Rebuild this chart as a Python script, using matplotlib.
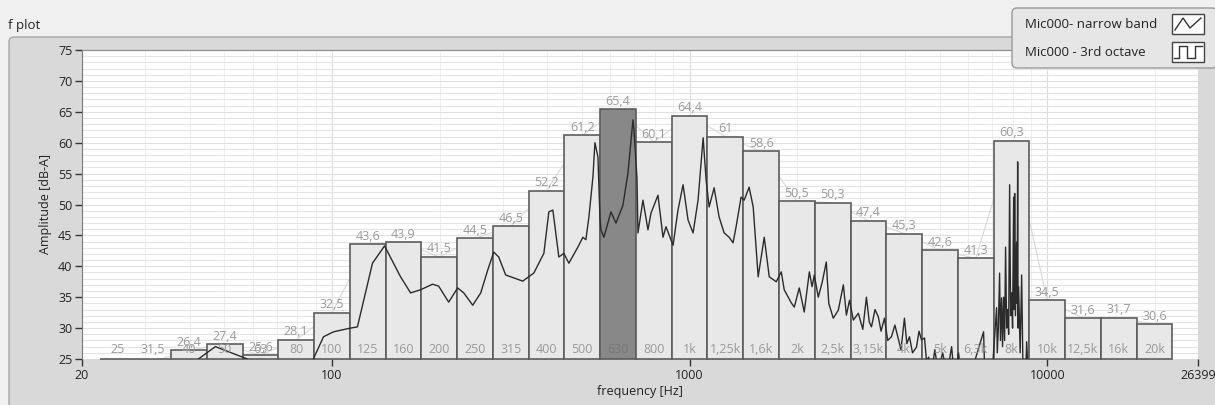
import numpy as np
import matplotlib.pyplot as plt
from matplotlib.patches import FancyBboxPatch, Rectangle
from matplotlib.lines import Line2D

plt.rcParams['font.family'] = ['Open Sans', 'DejaVu Sans']

# third-octave bands
bands = [25, 31.5, 40, 50, 63, 80, 100, 125, 160, 200, 250, 315, 400, 500, 630, 800,
         1000, 1250, 1600, 2000, 2500, 3150, 4000, 5000, 6300, 8000, 10000, 12500, 16000, 20000]
band_names = ['25', '31,5', '40', '50', '63', '80', '100', '125', '160', '200', '250', '315',
              '400', '500', '630', '800', '1k', '1,25k', '1,6k', '2k', '2,5k', '3,15k', '4k',
              '5k', '6,3k', '8k', '10k', '12,5k', '16k', '20k']
octave_db = [24.0, 24.6, 26.4, 27.4, 25.6, 28.1, 32.5, 43.6, 43.9, 41.5, 44.5, 46.5, 52.2,
             61.2, 65.4, 60.1, 64.4, 61.0, 58.6, 50.5, 50.3, 47.4, 45.3, 42.6, 41.3, 60.3,
             34.5, 31.6, 31.7, 30.6]
highlight = '630'

# narrow band spectrum
nb_freq = [40, 42.3, 47.2, 58, 62, 80, 88.7, 94.7, 101, 110.5, 117.8, 129.8, 140.3, 155.5,
           165.9, 176.9, 191, 198.7, 212, 224.6, 233.6, 247.5, 260.6, 272.6, 283.4, 292.6,
           306, 341.6, 366.7, 391.3, 404, 414.6, 422.6, 430.9, 445, 459.6, 487, 503, 512.8,
           523, 536.7, 543.6, 554.2, 561.4, 565, 576, 602.6, 622.4, 651.2, 672.4, 694.4,
           698.8, 712.6, 717.2, 740.6, 764.8, 779.8, 815.8, 842.6, 859, 899, 928, 958.8, 990,
           1022.6, 1056, 1091, 1112, 1134, 1171, 1209, 1249, 1290, 1323, 1349, 1393, 1421,
           1467, 1506, 1555, 1617, 1670, 1747, 1804, 1839, 1924, 1962, 2026, 2092, 2162,
           2200, 2232, 2290, 2350, 2411, 2450, 2522, 2605, 2691, 2744, 2800, 2870, 2964,
           3050, 3122, 3180, 3225, 3300, 3372, 3430, 3506, 3580, 3668, 3750, 3838, 3900,
           3988, 4050, 4120, 4200, 4309, 4380, 4451, 4538, 4600, 4657, 4750, 4850, 4950,
           5100, 5250, 5403, 5500, 5649, 5750, 6000, 6638, 6700, 7000, 7218, 7250, 7300,
           7358, 7400, 7454, 7500, 7552, 7600, 7648, 7700, 7750, 7800, 7850, 7900, 7952,
           8000, 8056, 8080, 8108, 8150, 8212, 8240, 8266, 8290, 8318, 8400, 8482, 8550,
           8700, 8760, 8850, 9500]
nb_db = [23.0, 25.0, 27.0, 25.0, 23.5, 22.0, 25.0, 28.6, 29.4, 29.9, 30.2, 40.5, 43.3, 38.3,
         35.7, 36.2, 37.1, 36.8, 34.2, 36.5, 35.7, 33.7, 35.7, 39.4, 42.3, 41.5,
         38.6, 37.6, 38.9, 42.1, 48.8, 49.1, 45.4, 41.5, 42.1, 40.5, 43.1, 44.7, 44.3,
         48.0, 54.5, 60.0, 57.7, 48.0, 45.9, 44.7, 48.8, 47.0, 49.9, 55.1, 63.7,
         62.1, 54.3, 45.4, 50.7, 45.9, 48.6, 51.5, 44.7, 46.4, 43.4, 49.1, 53.2, 47.5,
         45.4, 50.7, 60.8, 54.0, 49.6, 52.7, 48.0, 45.4, 44.7, 43.8, 46.4, 51.2, 50.7,
         52.8, 49.6, 38.3, 44.7, 38.3, 37.5, 39.1, 36.2, 34.1, 33.4, 36.5, 32.6, 39.1,
         36.7, 38.6, 35.0, 37.5, 40.7, 34.0, 31.6, 32.9, 37.0, 32.1, 34.5, 31.3, 32.4,
         29.8, 35.0, 31.0, 30.2, 33.0, 31.8, 29.5, 31.6, 28.0, 28.6, 30.5, 28.1, 26.5,
         31.6, 27.5, 28.6, 26.0, 26.9, 29.5, 28.1, 28.4, 24.5, 25.3, 23.0, 26.5, 23.0,
         26.0, 22.5, 27.0, 22.0, 26.0, 22.0, 21.0, 29.4, 21.0, 22.0, 33.3, 26.0, 30.0,
         38.9, 28.0, 34.9, 27.0, 35.0, 28.0, 43.1, 30.0, 33.0, 29.0, 53.2, 32.0, 35.7,
         30.0, 51.2, 33.0, 51.8, 32.0, 43.9, 34.0, 56.9, 30.0, 36.7, 26.0, 38.6, 24.0,
         22.0, 27.8, 22.0, 20.0]

fig = plt.figure(figsize=(12.15, 4.05), dpi=100)
fig.patch.set_facecolor('#f0f0f0')

# window chrome in pixel coordinates
bg = fig.add_axes([0, 0, 1, 1])
bg.set_xlim(0, 1215)
bg.set_ylim(405, 0)
bg.axis('off')
bg.add_patch(FancyBboxPatch((9, 37), 1210, 380, boxstyle='round,pad=0,rounding_size=5',
                            fc='#d9d9d9', ec='#a8a8a8', lw=1))
bg.text(8, 25, 'f plot', fontsize=9.5, va='center', ha='left', color='#222222')

ax = fig.add_axes([82 / 1215, 46 / 405, 1116 / 1215, 309 / 405])
ax.set_xscale('log')
ax.set_xlim(20, 26399)
ax.set_ylim(25, 75)
ax.set_facecolor('white')

centers = 1000 * 10 ** (np.round(10 * np.log10(np.array(bands) / 1000)) / 10)
lo = centers * 10 ** (-0.05)
hi = centers * 10 ** (0.05)
vals = np.array(octave_db)

# faint line through the band levels
ax.plot(centers, vals, color='#d8d8d8', lw=0.8, zorder=1)

colors = ['#888888' if n == highlight else '#e8e8e8' for n in band_names]
ax.bar(lo, np.clip(vals - 25, 0, None), width=hi - lo, bottom=25, align='edge',
       color=colors, edgecolor='#5c5c5c', lw=1.2, zorder=2, clip_on=False)

for c, v, n in zip(centers, vals, band_names):
    ax.text(c, 26.6, n, ha='center', va='center', fontsize=9,
            color='#777777' if n == highlight else '#9a9a9a', zorder=4)
    if v > 25:
        ax.text(c, v + 0.25, f'{v:g}'.replace('.', ','), ha='center', va='bottom',
                fontsize=9, color='#9a9a9a', zorder=4)

ax.plot(nb_freq, nb_db, color='#2b2b2b', lw=1.0, zorder=3)

xt = [20, 100, 1000, 10000, 26399]
ax.set_xticks(xt)
ax.set_xticklabels([str(t) for t in xt])
minor_x = [m * d for d in (10, 100, 1000, 10000) for m in range(2, 10)]
ax.set_xticks([m for m in minor_x if 20 < m < 26399], minor=True)
ax.set_yticks(range(25, 76, 5))
ax.set_yticks(range(25, 76), minor=True)
ax.tick_params(which='major', direction='out', length=5, width=1, color='#333333',
               labelsize=9, labelcolor='#222222', pad=2)
ax.tick_params(which='minor', length=0)
ax.grid(which='minor', axis='y', color='#e4e4e4', lw=0.8)
ax.grid(which='major', axis='y', color='#e0e0e0', lw=0.8)
ax.grid(which='minor', axis='x', color='#efefef', lw=0.8)
ax.grid(which='major', axis='x', color='#dddddd', lw=0.8)
ax.set_axisbelow(True)
for s in ['right', 'bottom']:
    ax.spines[s].set_visible(False)
ax.spines['left'].set_color('#7a7a7a')
ax.spines['top'].set_color('#8a8a8a')
ax.set_xlabel('frequency [Hz]', fontsize=9, color='#222222', labelpad=2)
ax.set_ylabel('Amplitude [dB-A]', fontsize=9, color='#222222', labelpad=4)

# legend box, drawn on an overlay above the plot
lg = fig.add_axes([0, 0, 1, 1])
lg.set_xlim(0, 1215)
lg.set_ylim(405, 0)
lg.axis('off')
lg.patch.set_alpha(0)
lg.add_patch(FancyBboxPatch((1012, 8), 205, 60, boxstyle='round,pad=0,rounding_size=5',
                            fc='#e6e6e6', ec='#9a9a9a', lw=1))
lg.text(1025, 24, 'Mic000- narrow band', fontsize=9.5, va='center', ha='left',
        color='#222222')
lg.text(1025, 52, 'Mic000 - 3rd octave', fontsize=9.5, va='center', ha='left',
        color='#222222')
for yy in (14, 42):
    lg.add_patch(Rectangle((1172, yy), 32, 20, fc='white', ec='#444444', lw=1))
lg.add_line(Line2D([1175, 1183, 1190, 1201], [30, 18, 28, 18], color='#333333', lw=1))
lg.add_line(Line2D([1174, 1179, 1179, 1187, 1187, 1195, 1195, 1202],
                   [58, 58, 46, 46, 58, 58, 46, 46], color='#333333', lw=1))

fig.savefig('out.png', dpi=100, facecolor=fig.get_facecolor())
